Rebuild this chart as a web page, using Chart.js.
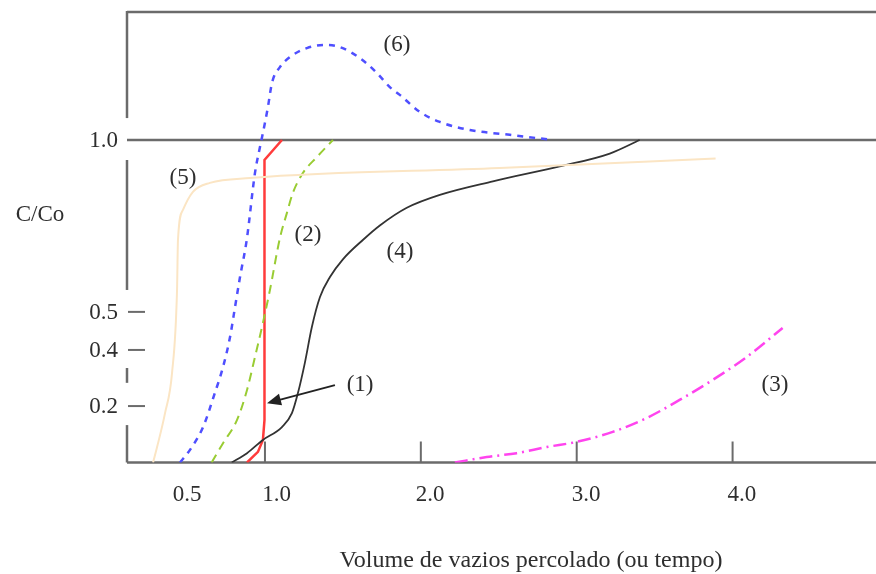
<!DOCTYPE html>
<html>
<head>
<meta charset="utf-8">
<script src="https://cdn.jsdelivr.net/npm/chart.js@4"></script>
<style>
  html, body { margin: 0; padding: 0; background: #fff; }
  #wrap { width: 876px; height: 574px; }
</style>
</head>
<body>
<div id="wrap"><canvas id="curveChart" width="876" height="574"></canvas></div>
<script>
// curves, x = pore volumes, y = C/Co
const curve1X = [0.885, 0.955, 0.987, 0.997, 0.997, 1.109];
const curve1Y = [0, 0.033, 0.070, 0.132, 0.938, 1.0];

const curve2X = [0.658, 0.731, 0.821, 0.885, 0.936, 0.987, 1.032, 1.096, 1.141, 1.179, 1.244, 1.333, 1.436];
const curve2Y = [0, 0.060, 0.132, 0.225, 0.327, 0.433, 0.535, 0.696, 0.774, 0.836, 0.898, 0.947, 1.0];

const curve3X = [2.218, 2.423, 2.615, 2.808, 3.0, 3.231, 3.449, 3.660, 3.872, 4.090, 4.321];
const curve3Y = [0, 0.017, 0.029, 0.048, 0.064, 0.095, 0.138, 0.194, 0.256, 0.327, 0.417];

const curve4X = [0.787, 0.885, 0.987, 1.109, 1.173, 1.212, 1.256, 1.301, 1.353, 1.417, 1.500, 1.628, 1.737, 1.910, 2.122, 2.462, 2.891, 3.212, 3.404];
const curve4Y = [0, 0.029, 0.070, 0.110, 0.153, 0.216, 0.309, 0.420, 0.513, 0.575, 0.630, 0.690, 0.735, 0.790, 0.830, 0.872, 0.918, 0.958, 1.0];

const curve5X = [0.282, 0.308, 0.359, 0.404, 0.436, 0.442, 0.474, 0.538, 0.647, 0.904, 2.506, 3.891];
const curve5Y = [0, 0.048, 0.153, 0.278, 0.535, 0.690, 0.783, 0.839, 0.867, 0.882, 0.913, 0.943];

const curve6X = [0.455, 0.519, 0.603, 0.679, 0.731, 0.776, 0.808, 0.840, 0.883, 0.936, 0.968, 0.987, 1.019, 1.045, 1.096, 1.160, 1.269, 1.397, 1.481, 1.609, 1.718, 1.801, 1.865, 1.994, 2.122, 2.314, 2.571, 2.846];
const curve6Y = [0, 0.039, 0.110, 0.216, 0.296, 0.389, 0.482, 0.575, 0.690, 0.898, 0.978, 1.022, 1.102, 1.177, 1.226, 1.257, 1.285, 1.295, 1.288, 1.254, 1.208, 1.164, 1.140, 1.087, 1.056, 1.031, 1.016, 1.0];

// tick labels (the figure is a sketch, labels are not evenly spaced)
const xTickMarks = [1, 2, 3, 4];
const xTickLabels = ['0.5', '1.0', '2.0', '3.0', '4.0'];
const xTickLabelAt = [0.5, 1.075, 2.06, 3.06, 4.06];
const yTickLabels = ['1.0', '0.5', '0.4', '0.2'];
const yTickAt = [1.0, 0.467, 0.349, 0.175];

const curveNames = ['(1)', '(2)', '(3)', '(4)', '(5)', '(6)'];
const curveNameX = [1.610, 1.276, 4.272, 1.866, 0.474, 1.847];
const curveNameY = [0.240, 0.705, 0.240, 0.653, 0.882, 1.295];

function toPoints(xs, ys) {
  return xs.map((x, i) => ({ x: x, y: ys[i] }));
}

const FONT = '"Liberation Serif", "DejaVu Serif", serif';
const AXIS_COLOR = '#6b6b6b';

// frame, broken y axis, ticks, labels and arrow
const sketchAxes = {
  id: 'sketchAxes',
  beforeDatasetsDraw(chart) {
    const { ctx, chartArea, scales } = chart;
    const xs = scales.x, ys = scales.y;
    const left = chartArea.left, right = chartArea.right;

    ctx.save();
    ctx.strokeStyle = AXIS_COLOR;
    ctx.lineWidth = 2.5;
    ctx.lineCap = 'butt';

    function hline(y) {
      ctx.beginPath(); ctx.moveTo(left, y); ctx.lineTo(right, y); ctx.stroke();
    }
    hline(ys.getPixelForValue(1.4) + 1);
    hline(ys.getPixelForValue(1.0));
    hline(ys.getPixelForValue(0));

    // broken left axis, in C/Co units
    const segs = [[1.4, 1.068], [0.938, 0.535], [0.293, 0.247], [0.116, 0]];
    for (const s of segs) {
      ctx.beginPath();
      ctx.moveTo(left, ys.getPixelForValue(s[0]));
      ctx.lineTo(left, ys.getPixelForValue(s[1]));
      ctx.stroke();
    }

    // small dashes at 0.5 / 0.4 / 0.2
    ctx.lineWidth = 2;
    for (let i = 1; i < yTickAt.length; i++) {
      const py = ys.getPixelForValue(yTickAt[i]);
      ctx.beginPath(); ctx.moveTo(left + 1, py); ctx.lineTo(left + 18, py); ctx.stroke();
    }

    // x tick marks standing on the axis
    const bottom = ys.getPixelForValue(0);
    for (const v of xTickMarks) {
      const px = xs.getPixelForValue(v);
      ctx.beginPath(); ctx.moveTo(px, bottom); ctx.lineTo(px, bottom - 21); ctx.stroke();
    }

    ctx.fillStyle = '#2e2e2e';
    ctx.font = '23px ' + FONT;
    ctx.textBaseline = 'middle';
    ctx.textAlign = 'right';
    yTickLabels.forEach((t, i) => {
      ctx.fillText(t, left - 9, ys.getPixelForValue(yTickAt[i]) + 1);
    });
    ctx.textAlign = 'center';
    xTickLabels.forEach((t, i) => {
      ctx.fillText(t, xs.getPixelForValue(xTickLabelAt[i]), bottom + 32);
    });

    ctx.fillText('C/Co', 40, 215);
    ctx.font = '24px ' + FONT;
    ctx.fillText('Volume de vazios percolado (ou tempo)', 531, 561);

    ctx.font = '23px ' + FONT;
    curveNames.forEach((t, i) => {
      ctx.fillText(t, xs.getPixelForValue(curveNameX[i]), ys.getPixelForValue(curveNameY[i]));
    });
    ctx.restore();
  },
  afterDatasetsDraw(chart) {
    const { ctx, scales } = chart;
    const x0 = scales.x.getPixelForValue(1.449), y0 = scales.y.getPixelForValue(0.240);
    const x1 = scales.x.getPixelForValue(1.013), y1 = scales.y.getPixelForValue(0.184);
    const ang = Math.atan2(y1 - y0, x1 - x0);
    ctx.save();
    ctx.strokeStyle = '#222';
    ctx.fillStyle = '#222';
    ctx.lineWidth = 2;
    ctx.beginPath();
    ctx.moveTo(x0, y0);
    ctx.lineTo(x1 - 10 * Math.cos(ang), y1 - 10 * Math.sin(ang));
    ctx.stroke();
    ctx.beginPath();
    ctx.moveTo(x1, y1);
    ctx.lineTo(x1 - 14 * Math.cos(ang) + 6 * Math.sin(ang), y1 - 14 * Math.sin(ang) - 6 * Math.cos(ang));
    ctx.lineTo(x1 - 14 * Math.cos(ang) - 6 * Math.sin(ang), y1 - 14 * Math.sin(ang) + 6 * Math.cos(ang));
    ctx.closePath();
    ctx.fill();
    ctx.restore();
  }
};

new Chart(document.getElementById('curveChart'), {
  type: 'scatter',
  data: {
    datasets: [
      { label: '(5)', data: toPoints(curve5X, curve5Y), borderColor: '#fbe5c4', borderWidth: 2, cubicInterpolationMode: 'monotone' },
      { label: '(6)', data: toPoints(curve6X, curve6Y), borderColor: '#4f4fff', borderWidth: 2.5, borderDash: [6, 6], cubicInterpolationMode: 'monotone' },
      { label: '(2)', data: toPoints(curve2X, curve2Y), borderColor: '#99cc33', borderWidth: 2, borderDash: [9, 6], cubicInterpolationMode: 'monotone' },
      { label: '(4)', data: toPoints(curve4X, curve4Y), borderColor: '#333333', borderWidth: 1.8, cubicInterpolationMode: 'monotone' },
      { label: '(1)', data: toPoints(curve1X, curve1Y), borderColor: '#ff3b3b', borderWidth: 2.5, tension: 0 },
      { label: '(3)', data: toPoints(curve3X, curve3Y), borderColor: '#ff44ee', borderWidth: 2.5, borderDash: [13, 5, 2, 5], cubicInterpolationMode: 'monotone' }
    ]
  },
  options: {
    responsive: false,
    animation: false,
    showLine: true,
    elements: { point: { radius: 0, hoverRadius: 0 } },
    layout: { padding: { left: 127, right: 0, top: 11, bottom: 111.5 } },
    scales: {
      x: { type: 'linear', min: 0.115, max: 4.92, display: false },
      y: { type: 'linear', min: 0, max: 1.4, display: false }
    },
    plugins: { legend: { display: false }, tooltip: { enabled: false } }
  },
  plugins: [sketchAxes]
});
</script>
</body>
</html>
